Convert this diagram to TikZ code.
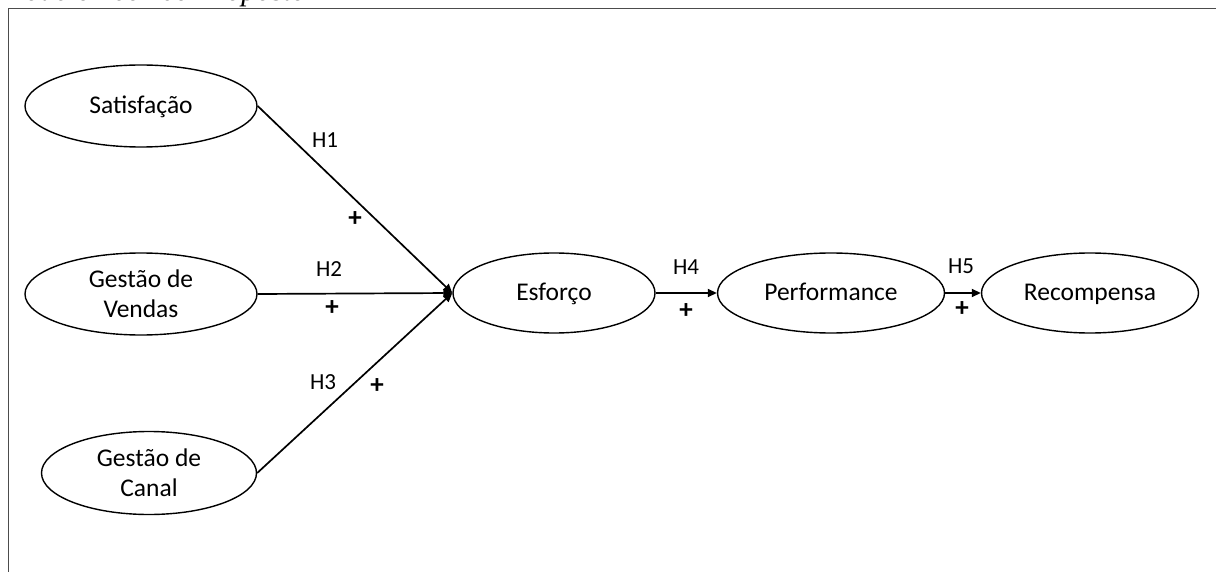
\documentclass[tikz,border=0pt]{standalone}
\usepackage{fontspec}
\setmainfont{Carlito}
\newfontfamily\captionfont{Liberation Serif}
\usetikzlibrary{shapes.geometric,arrows.meta}
\begin{document}
\begin{tikzpicture}[x=1pt,y=-1pt,
  construct/.style={draw, ellipse, line width=1.4pt, inner sep=0pt, align=center,
    font=\fontsize{25.5}{30}\selectfont},
  oneline/.style={text height=17pt, text depth=1pt},
  hyp/.style={inner sep=0pt, font=\fontsize{23}{26}\selectfont},
  sign/.style={inner sep=0pt, font=\bfseries\fontsize{27}{28}\selectfont},
  effect/.style={line width=1.7pt, -{Triangle[length=9pt,width=8pt]}}]
\useasboundingbox (0,0) rectangle (1216,572);

% caption and frame
\node[anchor=base west, inner sep=0pt, font=\captionfont\itshape\fontsize{30}{36}\selectfont]
  (cap) at (0,0.5) {Modelo Teórico Proposto};
\draw[black!70, line width=1.2pt] (1216,8.5) -- (8.5,8.5) -- (8.5,572);

% constructs
\node[construct, oneline, minimum width=232, minimum height=82] (sat)  at (141,106) {Satisfação};
\node[construct, minimum width=232, minimum height=82] (ven)  at (141,294) {Gestão de\\Vendas};
\node[construct, minimum width=215, minimum height=83] (can)  at (149,473) {Gestão de\\Canal};
\node[construct, oneline, minimum width=202, minimum height=80] (esf)  at (554,293) {Esforço};
\node[construct, oneline, minimum width=227, minimum height=80] (perf) at (831,293) {Performance};
\node[construct, oneline, minimum width=217, minimum height=80] (rec)  at (1090,293) {Recompensa};

% hypothesised effects
\draw[effect] (sat.east) -- (esf.west);
\draw[effect] (ven.east) -- (esf.west);
\draw[effect] (can.east) -- (esf.west);
\draw[effect] (esf.east) -- (perf.west);
\draw[effect] (perf.east) -- (rec.west);

% hypothesis labels and signs
\node[hyp]  (h1) at (325,140) {H1};
\node[sign] (s1) at (355,219) {+};
\node[hyp]  (h2) at (329,269) {H2};
\node[sign] (s2) at (332,308) {+};
\node[hyp]  (h3) at (323,382) {H3};
\node[sign] (s3) at (377,386) {+};
\node[hyp]  (h4) at (686,267) {H4};
\node[sign] (s4) at (686,311) {+};
\node[hyp]  (h5) at (961,266) {H5};
\node[sign] (s5) at (962,309) {+};
\end{tikzpicture}
\end{document}
